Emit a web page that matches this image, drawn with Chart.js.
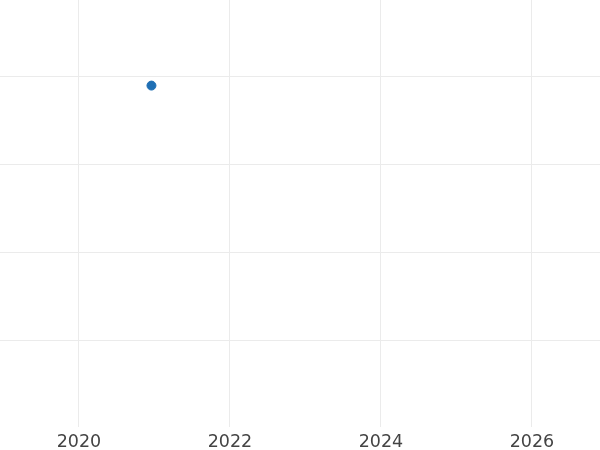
<!DOCTYPE html>
<html>
<head>
<meta charset="utf-8">
<script src="https://cdn.jsdelivr.net/npm/chart.js@4"></script>
<style>
  html, body { margin: 0; padding: 0; background: #fff; }
  #wrap { width: 600px; height: 450px; }
</style>
</head>
<body>
<div id="wrap"><canvas id="chart"></canvas></div>
<script>
const years = [2020.96];
const values = [3.9];
const xTicks = [2020, 2022, 2024, 2026];

const points = years.map((x, i) => ({ x: x, y: values[i] }));

new Chart(document.getElementById("chart").getContext("2d"), {
  type: 'scatter',
  data: {
    datasets: [{
      data: points,
      backgroundColor: '#1f6fb4',
      borderColor: '#1f6fb4',
      pointRadius: 4.5,
      pointHoverRadius: 4.5
    }]
  },
  options: {
    responsive: true,
    maintainAspectRatio: false,
    animation: false,
    layout: { padding: 0, autoPadding: false },
    plugins: { legend: { display: false }, tooltip: { enabled: false } },
    scales: {
      x: {
        type: 'linear',
        min: 2018.954,
        max: 2026.901,
        border: { display: false },
        grid: { color: '#ebebeb', drawTicks: false },
        afterBuildTicks: axis => { axis.ticks = xTicks.map(v => ({ value: v })); },
        afterFit: axis => { axis.height = 23; },
        ticks: {
          padding: 6,
          color: '#444',
          font: { family: 'DejaVu Sans', size: 17.5, lineHeight: 1.08 },
          callback: v => String(v)
        }
      },
      y: {
        min: 0.011,
        max: 4.875,
        border: { display: false },
        grid: { color: '#ebebeb', drawTicks: false },
        ticks: { display: false },
        afterBuildTicks: axis => { axis.ticks = [1, 2, 3, 4].map(v => ({ value: v })); }
      }
    }
  }
});
</script>
</body>
</html>
